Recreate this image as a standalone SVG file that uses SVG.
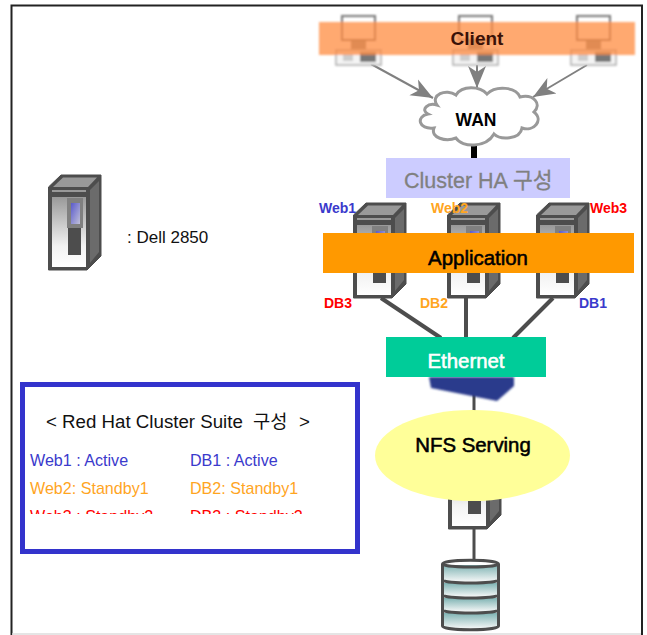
<svg xmlns="http://www.w3.org/2000/svg" xmlns:xlink="http://www.w3.org/1999/xlink" width="647" height="635" viewBox="0 0 647 635">
<style>
text{font-family:"Liberation Sans","Noto Sans CJK KR",Arial,sans-serif}
.big{font-size:20.4px;stroke-width:.55}
.tag{font-size:14px;font-weight:700}
.leg{font-size:16.100px}
.blue{fill:#3a3acc}.orange{fill:#ffa51f}.red{fill:#ff0000}
.link{stroke:#4d4d4d;stroke-width:4;fill:none}
.arr{stroke:#808080;stroke-width:2;fill:none;marker-end:url(#head)}
.band{fill:url(#disk)}
.ring{fill:none;stroke:#4d4d4d;stroke-width:3}
</style>
<defs>
<marker id="head" markerUnits="userSpaceOnUse" markerWidth="24" markerHeight="20" refX="22" refY="10" orient="auto"><path d="M0 1L22 10L0 19L6 10Z" fill="#808080"/></marker>
<linearGradient id="front" x1="0" y1="0" x2="0" y2="1"><stop offset="0" stop-color="#999"/><stop offset=".7" stop-color="#f2f2f2"/><stop offset="1" stop-color="#fff"/></linearGradient>
<linearGradient id="screen" x1="0" y1="0" x2="1" y2="1"><stop offset="0" stop-color="#5a5acc"/><stop offset="1" stop-color="#c0c0d8"/></linearGradient>
<linearGradient id="disk" x1="0" y1="0" x2="0" y2="1"><stop offset="0" stop-color="#7fb3b3"/><stop offset="1" stop-color="#f0f4f4"/></linearGradient>
<filter id="soft" x="-10%" y="-10%" width="120%" height="120%"><feGaussianBlur stdDeviation=".9"/></filter>
<clipPath id="legclip"><rect x="24" y="390" width="330" height="124"/></clipPath>
<symbol id="server" overflow="visible">
<path d="M1.500 12L14 0H54V81L40 95H1.500Z" fill="#4d4d4d" stroke="#4d4d4d" stroke-width="1"/>
<path d="M6 12L16 2.500H50L41 12Z" fill="#999"/>
<path d="M43 15L52 6V77L43 88Z" fill="#6b6b6b"/>
<rect x="5" y="15" width="34" height="2" fill="#999"/>
<rect x="5" y="22" width="34" height="70" fill="url(#front)"/>
<rect x="20" y="23" width="16" height="30" fill="#808080"/>
<rect x="24" y="28" width="9" height="21" fill="url(#screen)"/>
<rect x="21" y="53" width="13" height="27" fill="#4d4d4d"/>
</symbol>
<g id="pc">
<rect x="0" y="-1" width="33" height="24" fill="none" stroke="#777" stroke-width="2"/>
<rect x="-6" y="33" width="45" height="15" fill="#f4f4f4" stroke="#aaa" stroke-width="1.500"/>
<rect x="1" y="37" width="10" height="7" fill="#ccc"/>
<rect x="18" y="35" width="16" height="10" fill="#777"/>
<rect x="9" y="24" width="15" height="8" fill="#888"/>
</g>
</defs>
<rect width="647" height="635" fill="#fff"/>
<path d="M11.500 635V5.500H642V635" fill="none" stroke="#222" stroke-width="2"/>
<path d="M12 634H641" stroke="#ddd" stroke-width="1.500"/>

<g id="connectors">
<path class="arr" d="M371 64L433 98"/>
<path class="arr" d="M477 65V88"/>
<path class="arr" d="M587 65L533 97"/>
<path d="M474 146V159" stroke="#000" stroke-width="6"/>
<path class="link" d="M381 298L441 338"/>
<path class="link" d="M466 298V338"/>
<path class="link" d="M553 298L513 338"/>
<path d="M474 392V412" stroke="#4d4d4d" stroke-width="3"/>
<path d="M474 528V562" stroke="#4d4d4d" stroke-width="3"/>
</g>

<g id="client">
<g filter="url(#soft)">
<use href="#pc" x="342" y="17"/>
<use href="#pc" x="459" y="17"/>
<use href="#pc" x="577" y="17"/>
<rect x="319" y="22" width="316" height="33" fill="#ff8c42" fill-opacity=".75"/>
</g>
<text x="477" y="45" text-anchor="middle" font-size="19" font-weight="700" fill="#3a1208">Client</text>
</g>

<g id="wan">
<path d="M437 105C430 95 446 88 456 95C462 85 480 86 487 94C496 85 516 87 520 97C534 94 542 104 534 112C544 120 534 132 522 128C520 140 500 140 494 134C486 148 462 148 456 138C446 142 430 138 434 128C418 130 416 116 428 114C420 110 428 102 437 105Z" fill="#fff" stroke="#999" stroke-width="3"/>
<text x="476" y="126" text-anchor="middle" font-size="17.500" font-weight="700" fill="#000">WAN</text>
</g>

<g id="cluster-ha">
<rect x="386" y="158" width="184" height="40" fill="#ccccff"/>
<text y="188" font-size="21.500" fill="#808080" stroke="#808080" stroke-width=".3"><tspan x="404">Cluster HA</tspan><tspan x="513" font-size="21.500">구성</tspan></text>
</g>

<g id="web-db-1"><use href="#server" x="352" y="203"/></g>
<g id="web-db-2"><use href="#server" x="446" y="203"/></g>
<g id="web-db-3"><use href="#server" x="535" y="203"/></g>
<g id="server-labels">
<text class="tag blue" x="319" y="213">Web1</text>
<text class="tag orange" x="431" y="213">Web2</text>
<text class="tag red" x="590" y="213">Web3</text>
<text class="tag red" x="324" y="308">DB3</text>
<text class="tag orange" x="420" y="308">DB2</text>
<text class="tag blue" x="579" y="308">DB1</text>
</g>

<g id="application">
<rect x="323" y="233" width="311" height="40" fill="#ff9900"/>
<text class="big" x="478" y="265" text-anchor="middle" fill="#000" stroke="#000">Application</text>
</g>

<g id="switch">
<path d="M429 377H514V386L497 401L431 388Z" fill="#2a3a8c" filter="url(#soft)"/>
</g>
<g id="ethernet">
<rect x="386" y="337" width="160" height="40" fill="#00cc99"/>
<text class="big" x="466" y="368" text-anchor="middle" fill="#fff" stroke="#fff">Ethernet</text>
</g>

<g id="nfs-server"><use href="#server" x="447" y="434"/></g>
<g id="nfs">
<ellipse cx="472.500" cy="455.500" rx="97.500" ry="45.500" fill="#ffff99"/>
<text class="big" x="473" y="452" text-anchor="middle" fill="#000" stroke="#000">NFS Serving</text>
</g>

<g id="storage">
<path d="M442.500 564C442.500 559 498.500 559 498.500 564V626C498.500 631 442.500 631 442.500 626Z" fill="#fff"/>
<rect class="band" x="443" y="565" width="55" height="16"/>
<rect class="band" x="443" y="583" width="55" height="13"/>
<rect class="band" x="443" y="598" width="55" height="13"/>
<rect class="band" x="443" y="613" width="55" height="15"/>
<path class="ring" d="M442.500 564C442.500 559 498.500 559 498.500 564V626C498.500 631 442.500 631 442.500 626Z"/>
<path class="ring" d="M442.500 564C442.500 568 498.500 568 498.500 564"/>
<path class="ring" d="M442.500 580C442.500 584 498.500 584 498.500 580"/>
<path class="ring" d="M442.500 595C442.500 599 498.500 599 498.500 595"/>
<path class="ring" d="M442.500 610C442.500 614 498.500 614 498.500 610"/>
</g>

<g id="legend-server">
<use href="#server" x="47" y="175"/>
<text x="127" y="243" font-size="17" fill="#111">: Dell 2850</text>
</g>

<g id="legend-box">
<rect x="22.500" y="384.500" width="335" height="167" fill="#fff" stroke="#3333cc" stroke-width="5"/>
<text y="428" font-size="18.700" fill="#111"><tspan x="46">&lt; Red Hat Cluster Suite</tspan><tspan x="253">구성</tspan><tspan x="299">&gt;</tspan></text>
<g clip-path="url(#legclip)">
<text class="leg blue" x="30" y="466">Web1 : Active</text>
<text class="leg blue" x="190" y="466">DB1 : Active</text>
<text class="leg orange" x="30" y="494">Web2: Standby1</text>
<text class="leg orange" x="190" y="494">DB2: Standby1</text>
<text class="leg red" x="30" y="522">Web3 : Standby2</text>
<text class="leg red" x="190" y="522">DB3 : Standby2</text>
</g>
</g>
</svg>
